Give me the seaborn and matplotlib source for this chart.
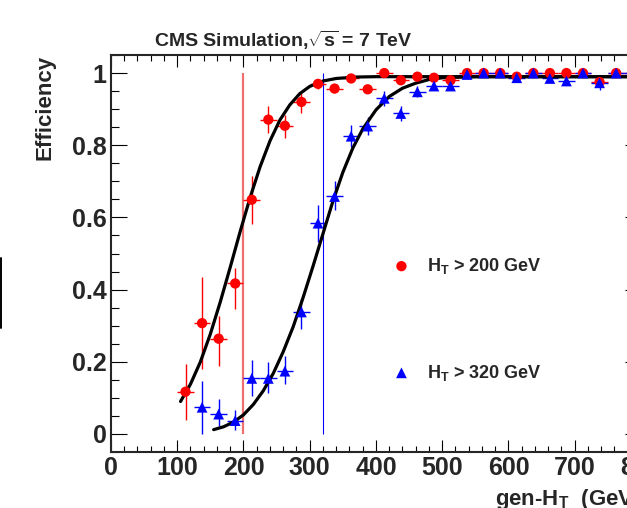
import matplotlib
matplotlib.use('Agg')
import matplotlib.pyplot as plt
import seaborn as sns
import pandas as pd
from matplotlib.ticker import MultipleLocator
from matplotlib.lines import Line2D

# bin centres (GeV), bins are 25 GeV wide
red_x = [112.5, 137.5, 162.5, 187.5, 212.5, 237.5, 262.5, 287.5, 312.5, 337.5,
         362.5, 387.5, 412.5, 437.5, 462.5, 487.5, 512.5, 537.5, 562.5, 587.5,
         612.5, 637.5, 662.5, 687.5, 712.5, 737.5, 762.5, 787.5]
red_eff = [0.117, 0.307, 0.264, 0.417, 0.649, 0.871, 0.854, 0.920, 0.970, 0.957,
           0.985, 0.955, 1.000, 0.980, 0.990, 0.987, 0.980, 1.000, 1.000, 1.000,
           0.990, 1.000, 1.000, 1.000, 1.000, 0.975, 1.000, 1.000]
red_lo = [0.078, 0.127, 0.077, 0.072, 0.067, 0.037, 0.034, 0.030, 0.015, 0.010,
          0.008, 0.010, 0.004, 0.008, 0.006, 0.006, 0.008, 0.004, 0.004, 0.004,
          0.006, 0.004, 0.004, 0.004, 0.004, 0.010, 0.004, 0.004]
red_hi = [0.077, 0.128, 0.062, 0.042, 0.065, 0.037, 0.031, 0.025, 0.012, 0.010,
          0.006, 0.010, 0.000, 0.008, 0.005, 0.005, 0.008, 0.000, 0.000, 0.000,
          0.005, 0.000, 0.000, 0.000, 0.000, 0.010, 0.000, 0.000]

blue_x = [137.5, 162.5, 187.5, 212.5, 237.5, 262.5, 287.5, 312.5, 337.5, 362.5,
          387.5, 412.5, 437.5, 462.5, 487.5, 512.5, 537.5, 562.5, 587.5, 612.5,
          637.5, 662.5, 687.5, 712.5, 737.5, 762.5, 787.5]
blue_eff = [0.074, 0.055, 0.037, 0.154, 0.154, 0.174, 0.338, 0.584, 0.658, 0.825,
            0.853, 0.930, 0.888, 0.948, 0.964, 0.964, 0.996, 1.000, 1.000, 0.987,
            1.000, 0.985, 0.978, 1.000, 0.973, 1.000, 1.000]
blue_lo = [0.074, 0.032, 0.026, 0.050, 0.041, 0.035, 0.046, 0.051, 0.037, 0.030,
           0.025, 0.020, 0.020, 0.015, 0.010, 0.010, 0.004, 0.004, 0.004, 0.008,
           0.004, 0.008, 0.010, 0.004, 0.020, 0.004, 0.004]
blue_hi = [0.074, 0.042, 0.029, 0.052, 0.045, 0.041, 0.037, 0.051, 0.042, 0.032,
           0.025, 0.020, 0.020, 0.015, 0.010, 0.010, 0.004, 0.000, 0.000, 0.008,
           0.000, 0.008, 0.010, 0.000, 0.020, 0.000, 0.000]
bin_half = 12.5

# fitted turn-on curves
red_fit_x = [105, 120, 135, 150, 165, 180, 195, 210, 225, 240, 255, 270, 285,
             300, 320, 340, 370, 400, 450, 500, 600, 700, 800]
red_fit_y = [0.090, 0.138, 0.200, 0.277, 0.366, 0.462, 0.561, 0.655, 0.740, 0.812,
             0.870, 0.912, 0.943, 0.963, 0.978, 0.985, 0.989, 0.990, 0.990, 0.990,
             0.990, 0.990, 0.990]
blue_fit_x = [155, 170, 185, 200, 215, 230, 245, 260, 275, 290, 305, 320, 335,
              350, 365, 380, 400, 420, 440, 460, 480, 500, 550, 600, 700, 800]
blue_fit_y = [0.012, 0.020, 0.033, 0.053, 0.082, 0.120, 0.168, 0.228, 0.297, 0.378,
              0.465, 0.555, 0.645, 0.725, 0.792, 0.845, 0.898, 0.935, 0.958, 0.972,
              0.982, 0.987, 0.990, 0.990, 0.990, 0.990]

# trigger thresholds
cut_red = 200
cut_blue = 320

red = pd.DataFrame({'x': red_x, 'eff': red_eff})
blue = pd.DataFrame({'x': blue_x, 'eff': blue_eff})
red_fit = pd.DataFrame({'x': red_fit_x, 'eff': red_fit_y})
blue_fit = pd.DataFrame({'x': blue_fit_x, 'eff': blue_fit_y})

sns.set_theme(style='ticks')
plt.rcParams['font.family'] = ['Liberation Sans', 'DejaVu Sans']
plt.rcParams['font.weight'] = 'bold'
plt.rcParams['mathtext.fontset'] = 'custom'
plt.rcParams['mathtext.rm'] = 'Liberation Sans:bold'
plt.rcParams['mathtext.it'] = 'Liberation Sans:bold'
plt.rcParams['mathtext.bf'] = 'Liberation Sans:bold'
plt.rcParams['axes.linewidth'] = 1.5

fig = plt.figure(figsize=(6.27, 5.08), dpi=100)
# axes run past the right edge of the picture (cropped ROOT canvas)
ax = fig.add_axes([0.1770, 0.1102, 0.8453, 0.7815])

ax.vlines(cut_red, 0, 1, color='#f07070', lw=1.6, zorder=2)
ax.vlines(cut_blue, 0, 1, color='blue', lw=0.8, zorder=2)

ax.errorbar(red['x'], red['eff'], xerr=bin_half, yerr=[red_lo, red_hi],
            fmt='none', ecolor='red', elinewidth=1, capsize=0, zorder=3)
ax.errorbar(blue['x'], blue['eff'], xerr=bin_half, yerr=[blue_lo, blue_hi],
            fmt='none', ecolor='blue', elinewidth=1, capsize=0, zorder=3)

sns.lineplot(data=red_fit, x='x', y='eff', ax=ax, color='black', lw=2.3,
             sort=False, estimator=None, zorder=4)
sns.lineplot(data=blue_fit, x='x', y='eff', ax=ax, color='black', lw=2.3,
             sort=False, estimator=None, zorder=4)

sns.scatterplot(data=red, x='x', y='eff', ax=ax, color='red', marker='o', s=55,
                edgecolor='none', zorder=5, label=r'$\mathrm{H}_\mathrm{T}$ > 200 GeV')
sns.scatterplot(data=blue, x='x', y='eff', ax=ax, color='blue', marker='^', s=60,
                edgecolor='none', zorder=5, label=r'$\mathrm{H}_\mathrm{T}$ > 320 GeV')

ax.set_xlim(0, 800)
ax.xaxis.set_major_locator(MultipleLocator(100))
ax.xaxis.set_minor_locator(MultipleLocator(20))
ax.yaxis.set_minor_locator(MultipleLocator(0.05))
ax.set_yticks([0, 0.2, 0.4, 0.6, 0.8, 1.0])
ax.set_yticklabels(['0', '0.2', '0.4', '0.6', '0.8', '1'])
ax.set_ylim(-0.05, 1.05)

ax.tick_params(which='both', direction='in', top=True, right=True, width=0.8,
               color='black', labelsize=18)
ax.tick_params(axis='x', which='major', length=8.6, pad=3)
ax.tick_params(axis='x', which='minor', length=4.3)
ax.tick_params(axis='y', which='major', length=11.5, pad=3)
ax.tick_params(axis='y', which='minor', length=5.5)
for lab in ax.get_xticklabels() + ax.get_yticklabels():
    lab.set_fontweight('bold')

ax.set_xlabel(r'gen-$\mathrm{H}_\mathrm{T}$  (GeV)', loc='right', fontsize=16,
              fontweight='bold', labelpad=5)
ax.set_ylabel('Efficiency', loc='top', fontsize=16, fontweight='bold', labelpad=12)

ax.legend(loc='upper left', bbox_to_anchor=(0.531, 0.494), frameon=False,
          fontsize=13, handlelength=1.0, handletextpad=0.9, labelspacing=4.8,
          borderpad=0, borderaxespad=0, markerscale=1.0)

fig.text(283 / 627, 1 - 40 / 508, r'CMS Simulation,$\sqrt{\mathrm{s}}$ = 7 TeV',
         ha='center', va='center', fontsize=14, fontweight='bold')

# sliver of the neighbouring panel at the left edge
fig.add_artist(Line2D([0.0015, 0.0015], [1 - 258 / 508, 1 - 328 / 508],
                      color='black', lw=1.4))

fig.savefig('out.png', dpi=100)
